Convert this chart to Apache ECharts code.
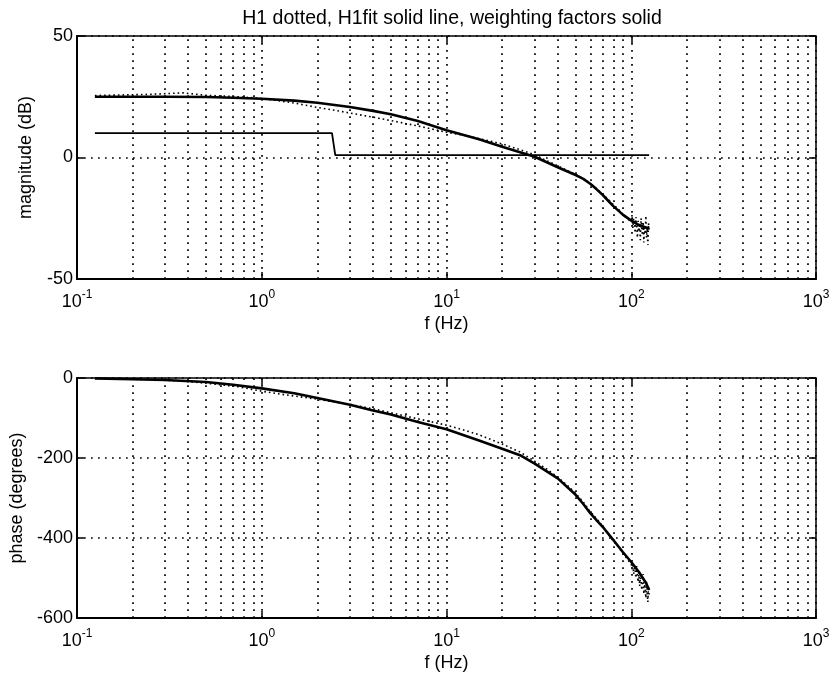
<!DOCTYPE html>
<html>
<head>
<meta charset="utf-8">
<script src="https://cdn.jsdelivr.net/npm/echarts@6/dist/echarts.min.js"></script>
<style>
  html, body { margin: 0; padding: 0; background: #fff; }
  #chart { width: 833px; height: 677px; }
</style>
</head>
<body>
<div id="chart"></div>
<script>
// fitted model (solid thick line)
const freqFit = [0.125, 0.2, 0.3, 0.5, 0.7, 1, 1.5, 2, 3, 4, 5, 7, 10, 15, 20, 25, 30, 40, 50, 55, 60, 65, 70, 75, 80, 90, 100, 110, 120, 125]
const magFit = [25, 25, 25, 24.9, 24.6, 24.2, 23.4, 22.5, 20.8, 19.2, 17.8, 15, 11.2, 7.5, 4.4, 2.2, 0.3, -4, -7.2, -8.8, -10.8, -13.1, -15.4, -17.8, -20, -23.5, -26, -27.8, -28.8, -29.2]
const phaseFit = [-1, -3, -5, -10, -17, -26, -38, -50, -67, -81, -91, -110, -128, -156, -177, -193, -214, -251, -292, -315, -338, -356, -372, -389, -405, -435, -460, -485, -512, -530]

// measured H1 (dotted)
const freqH1 = [0.125, 0.25, 0.375, 0.5, 0.75, 1, 1.25, 1.5, 2, 2.5, 3, 4, 5, 6, 7, 8, 10, 12, 15, 20, 25, 30, 35, 40, 45, 50, 55, 60, 65, 70, 75, 80, 85, 90, 95, 100, 101, 102, 103, 104, 105, 106, 107, 108, 109, 110, 111, 112, 113, 114, 115, 116, 117, 118, 119, 120, 121, 122, 123, 124, 125]
const magH1 = [25.5, 26, 26.6, 25.6, 25, 24.3, 23.3, 22.4, 20.6, 19.4, 18.3, 16.6, 15.2, 14, 13, 12, 10.4, 9.4, 7.8, 5.6, 3.2, 1.1, -1.4, -3.4, -5.4, -7, -8.8, -10.8, -12.9, -15, -17.2, -19.4, -21.2, -23.4, -25, -26.5, -23.5, -29, -25, -27.5, -31, -24.5, -28, -33, -26, -30.5, -27, -34, -25, -29.5, -32, -26.5, -35, -28, -31.5, -24, -33, -29, -36, -27, -30]
const phaseH1 = [-1, -4, -8, -13, -22, -33, -40, -45, -53, -60, -66, -77, -87, -95, -102, -108, -118, -128, -142, -165, -185, -208, -228, -248, -268, -288, -310, -334, -352, -370, -390, -408, -422, -438, -452, -466, -478, -462, -490, -474, -482, -500, -470, -495, -510, -485, -520, -498, -505, -530, -512, -490, -540, -515, -525, -550, -508, -535, -560, -520, -545]

// weighting factors (solid thin line)
const freqWeight = [0.125, 2.4, 2.5, 125]
const weight = [10, 10, 1, 1]

// log minor grid positions
const minorFreqs = [
  0.2, 0.3, 0.4, 0.5, 0.6, 0.7, 0.8, 0.9,
  2, 3, 4, 5, 6, 7, 8, 9,
  20, 30, 40, 50, 60, 70, 80, 90,
  200, 300, 400, 500, 600, 700, 800, 900
]

const magTicks = { min: -50, max: 50, interval: 50 }
const phaseTicks = { min: -600, max: 0, interval: 200 }

const toPairs = (xs, ys) => xs.map((x, i) => [x, ys[i]])

const font = 'Liberation Sans, Arial, sans-serif'
const dotted = { color: '#000', width: 1.7, type: [1.7, 5.3] }
const tickStyle = { color: '#000', width: 1.5 }

function xAxisFor(gridIndex) {
  return {
    type: 'log',
    logBase: 10,
    min: 0.1,
    max: 1000,
    gridIndex: gridIndex,
    name: 'f (Hz)',
    nameLocation: 'middle',
    nameGap: 36,
    nameTextStyle: { color: '#000', fontSize: 18, fontFamily: font },
    axisLine: { show: true, onZero: false, lineStyle: { color: '#000', width: 2 } },
    axisTick: { show: true, inside: true, length: 7, lineStyle: tickStyle },
    axisLabel: {
      margin: 10,
      color: '#000',
      fontFamily: font,
      formatter: function(v) {
        const e = Math.round(Math.log10(v))
        return '{b|10}{s|' + e + '}'
      },
      rich: {
        b: { fontSize: 18, lineHeight: 22, verticalAlign: 'bottom', fontFamily: font, color: '#000' },
        s: { fontSize: 12, lineHeight: 11, verticalAlign: 'top', fontFamily: font, color: '#000' }
      }
    },
    splitLine: { show: true, lineStyle: dotted }
  }
}

function xTopFor(gridIndex) {
  return {
    type: 'log',
    logBase: 10,
    min: 0.1,
    max: 1000,
    gridIndex: gridIndex,
    position: 'top',
    axisLine: { show: false, onZero: false },
    axisTick: { show: true, inside: true, length: 7, lineStyle: tickStyle },
    axisLabel: { show: false },
    splitLine: { show: false }
  }
}

function yAxisFor(gridIndex, ticks, name) {
  return {
    type: 'value',
    gridIndex: gridIndex,
    min: ticks.min,
    max: ticks.max,
    interval: ticks.interval,
    name: name,
    nameLocation: 'middle',
    nameGap: 42,
    nameTextStyle: { color: '#000', fontSize: 18, fontFamily: font },
    axisLine: { show: true, onZero: false, lineStyle: { color: '#000', width: 2 } },
    axisTick: { show: true, inside: true, length: 7, lineStyle: tickStyle },
    axisLabel: { margin: 4, color: '#000', fontSize: 18, fontFamily: font },
    splitLine: { show: true, lineStyle: dotted }
  }
}

function yRightFor(gridIndex, ticks) {
  return {
    type: 'value',
    gridIndex: gridIndex,
    min: ticks.min,
    max: ticks.max,
    interval: ticks.interval,
    position: 'right',
    axisLine: { show: false, onZero: false },
    axisTick: { show: true, inside: true, length: 7, lineStyle: tickStyle },
    axisLabel: { show: false },
    splitLine: { show: false }
  }
}

const minorLines = {
  silent: true,
  symbol: 'none',
  label: { show: false },
  lineStyle: dotted,
  animation: false,
  data: minorFreqs.map(f => ({ xAxis: f }))
}

const option = {
  animation: false,
  backgroundColor: '#fff',
  title: {
    text: 'H1 dotted, H1fit solid line, weighting factors solid',
    left: 447,
    top: 4,
    textAlign: 'center',
    textStyle: { color: '#000', fontSize: 19.5, fontWeight: 'normal', fontFamily: font }
  },
  grid: [
    { left: 77, top: 36, width: 739, height: 243, show: true, borderColor: '#000', borderWidth: 1.5 },
    { left: 77, top: 378, width: 739, height: 240, show: true, borderColor: '#000', borderWidth: 1.5 }
  ],
  xAxis: [xAxisFor(0), xAxisFor(1), xTopFor(0), xTopFor(1)],
  yAxis: [
    yAxisFor(0, magTicks, 'magnitude (dB)'),
    yAxisFor(1, phaseTicks, 'phase (degrees)'),
    yRightFor(0, magTicks),
    yRightFor(1, phaseTicks)
  ],
  series: [
    {
      name: 'H1',
      type: 'line',
      xAxisIndex: 0,
      yAxisIndex: 0,
      showSymbol: false,
      lineStyle: { color: '#000', width: 1.6, type: [1.6, 3] },
      data: toPairs(freqH1, magH1),
      markLine: minorLines
    },
    {
      name: 'H1fit',
      type: 'line',
      xAxisIndex: 0,
      yAxisIndex: 0,
      showSymbol: false,
      lineStyle: { color: '#000', width: 2.6, join: 'round' },
      data: toPairs(freqFit, magFit)
    },
    {
      name: 'weighting',
      type: 'line',
      xAxisIndex: 0,
      yAxisIndex: 0,
      showSymbol: false,
      lineStyle: { color: '#000', width: 1.8 },
      data: toPairs(freqWeight, weight)
    },
    {
      name: 'H1 phase',
      type: 'line',
      xAxisIndex: 1,
      yAxisIndex: 1,
      showSymbol: false,
      lineStyle: { color: '#000', width: 1.6, type: [1.6, 3] },
      data: toPairs(freqH1, phaseH1),
      markLine: minorLines
    },
    {
      name: 'H1fit phase',
      type: 'line',
      xAxisIndex: 1,
      yAxisIndex: 1,
      showSymbol: false,
      lineStyle: { color: '#000', width: 2.6, join: 'round' },
      data: toPairs(freqFit, phaseFit)
    }
  ]
}

const chart = echarts.init(document.getElementById('chart'), null, { renderer: 'canvas' })
chart.setOption(option)
</script>
</body>
</html>
